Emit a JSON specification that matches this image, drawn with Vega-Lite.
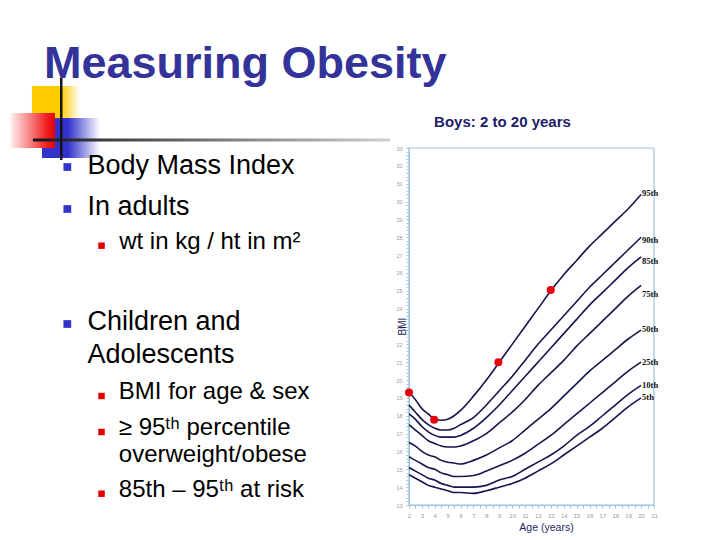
{
  "$schema": "https://vega.github.io/schema/vega-lite/v6.json",
  "width": 720,
  "height": 540,
  "padding": 0,
  "autosize": {"type": "none"},
  "background": "white",
  "config": {"view": {"stroke": null}},
  "datasets": {
    "slide": [
      {"role": "title", "t": "Measuring Obesity", "h": 6.1, "v": 14.5},
      {"role": "l1", "t": "Body Mass Index", "h": 12.15, "v": 32.22},
      {"role": "l1", "t": "In adults", "h": 12.15, "v": 39.81},
      {"role": "l2", "t": "wt in kg / ht in m²", "h": 16.55, "v": 46.06},
      {"role": "l1", "t": "Children and", "h": 12.15, "v": 61.11},
      {"role": "l1", "t": "Adolescents", "h": 12.15, "v": 67.28},
      {"role": "l2", "t": "BMI for age & sex", "h": 16.5, "v": 73.89},
      {"role": "l2", "t": "≥ 95ᵗʰ percentile", "h": 16.5, "v": 80.56},
      {"role": "l2", "t": "overweight/obese", "h": 16.5, "v": 85.5},
      {"role": "l2", "t": "85th – 95ᵗʰ at risk", "h": 16.5, "v": 91.98}
    ],
    "bullets": [
      {"lvl": 1, "h": 9.35, "v": 30.93},
      {"lvl": 1, "h": 9.35, "v": 38.7},
      {"lvl": 2, "h": 14.1, "v": 45.5},
      {"lvl": 1, "h": 9.35, "v": 60.0},
      {"lvl": 2, "h": 14.1, "v": 73.33},
      {"lvl": 2, "h": 14.1, "v": 80.0},
      {"lvl": 2, "h": 14.1, "v": 91.43}
    ],
    "decor": [
      {"part": "yellow", "h": 4.44, "h2": 11.11, "v": 15.93, "v2": 21.85},
      {"part": "blue", "h": 5.83, "h2": 13.89, "v": 21.85, "v2": 29.26},
      {"part": "red", "h": 1.39, "h2": 7.64, "v": 20.93, "v2": 27.41},
      {"part": "hline", "h": 4.58, "h2": 54.17, "v": 25.65, "v2": 26.2},
      {"part": "vline", "h": 8.33, "h2": 8.68, "v": 14.44, "v2": 29.63}
    ],
    "curves": [
      {"p":"5th","age":2,"bmi":14.7},{"p":"5th","age":2.5,"bmi":14.5},{"p":"5th","age":3,"bmi":14.3},{"p":"5th","age":3.5,"bmi":14.1},{"p":"5th","age":4,"bmi":14.0},{"p":"5th","age":4.5,"bmi":13.9},{"p":"5th","age":5,"bmi":13.8},{"p":"5th","age":5.5,"bmi":13.7},{"p":"5th","age":6,"bmi":13.7},{"p":"5th","age":7,"bmi":13.65},{"p":"5th","age":8,"bmi":13.8},{"p":"5th","age":9,"bmi":14.0},{"p":"5th","age":10,"bmi":14.2},{"p":"5th","age":11,"bmi":14.5},{"p":"5th","age":12,"bmi":14.9},{"p":"5th","age":13,"bmi":15.3},{"p":"5th","age":14,"bmi":15.8},{"p":"5th","age":15,"bmi":16.3},{"p":"5th","age":16,"bmi":16.8},{"p":"5th","age":17,"bmi":17.3},{"p":"5th","age":18,"bmi":17.9},{"p":"5th","age":19,"bmi":18.5},{"p":"5th","age":20,"bmi":19.0},
      {"p":"10th","age":2,"bmi":15.1},{"p":"10th","age":2.5,"bmi":14.9},{"p":"10th","age":3,"bmi":14.7},{"p":"10th","age":3.5,"bmi":14.5},{"p":"10th","age":4,"bmi":14.4},{"p":"10th","age":4.5,"bmi":14.2},{"p":"10th","age":5,"bmi":14.1},{"p":"10th","age":5.5,"bmi":14.0},{"p":"10th","age":6,"bmi":14.0},{"p":"10th","age":7,"bmi":14.0},{"p":"10th","age":8,"bmi":14.1},{"p":"10th","age":9,"bmi":14.4},{"p":"10th","age":10,"bmi":14.6},{"p":"10th","age":11,"bmi":15.0},{"p":"10th","age":12,"bmi":15.4},{"p":"10th","age":13,"bmi":15.8},{"p":"10th","age":14,"bmi":16.3},{"p":"10th","age":15,"bmi":16.9},{"p":"10th","age":16,"bmi":17.4},{"p":"10th","age":17,"bmi":18.0},{"p":"10th","age":18,"bmi":18.6},{"p":"10th","age":19,"bmi":19.2},{"p":"10th","age":20,"bmi":19.7},
      {"p":"25th","age":2,"bmi":15.7},{"p":"25th","age":2.5,"bmi":15.5},{"p":"25th","age":3,"bmi":15.3},{"p":"25th","age":3.5,"bmi":15.1},{"p":"25th","age":4,"bmi":15.0},{"p":"25th","age":4.5,"bmi":14.8},{"p":"25th","age":5,"bmi":14.7},{"p":"25th","age":5.5,"bmi":14.6},{"p":"25th","age":6,"bmi":14.6},{"p":"25th","age":7,"bmi":14.65},{"p":"25th","age":8,"bmi":14.9},{"p":"25th","age":9,"bmi":15.2},{"p":"25th","age":10,"bmi":15.5},{"p":"25th","age":11,"bmi":15.9},{"p":"25th","age":12,"bmi":16.4},{"p":"25th","age":13,"bmi":16.9},{"p":"25th","age":14,"bmi":17.5},{"p":"25th","age":15,"bmi":18.1},{"p":"25th","age":16,"bmi":18.7},{"p":"25th","age":17,"bmi":19.3},{"p":"25th","age":18,"bmi":19.9},{"p":"25th","age":19,"bmi":20.5},{"p":"25th","age":20,"bmi":21.0},
      {"p":"50th","age":2,"bmi":16.5},{"p":"50th","age":2.5,"bmi":16.3},{"p":"50th","age":3,"bmi":16.0},{"p":"50th","age":3.5,"bmi":15.8},{"p":"50th","age":4,"bmi":15.7},{"p":"50th","age":4.5,"bmi":15.5},{"p":"50th","age":5,"bmi":15.4},{"p":"50th","age":5.5,"bmi":15.35},{"p":"50th","age":6,"bmi":15.3},{"p":"50th","age":7,"bmi":15.5},{"p":"50th","age":8,"bmi":15.8},{"p":"50th","age":9,"bmi":16.2},{"p":"50th","age":10,"bmi":16.6},{"p":"50th","age":11,"bmi":17.2},{"p":"50th","age":12,"bmi":17.8},{"p":"50th","age":13,"bmi":18.4},{"p":"50th","age":14,"bmi":19.1},{"p":"50th","age":15,"bmi":19.8},{"p":"50th","age":16,"bmi":20.5},{"p":"50th","age":17,"bmi":21.1},{"p":"50th","age":18,"bmi":21.7},{"p":"50th","age":19,"bmi":22.3},{"p":"50th","age":20,"bmi":22.8},
      {"p":"75th","age":2,"bmi":17.5},{"p":"75th","age":2.5,"bmi":17.2},{"p":"75th","age":3,"bmi":16.9},{"p":"75th","age":3.5,"bmi":16.6},{"p":"75th","age":4,"bmi":16.45},{"p":"75th","age":4.5,"bmi":16.3},{"p":"75th","age":5,"bmi":16.25},{"p":"75th","age":5.5,"bmi":16.25},{"p":"75th","age":6,"bmi":16.3},{"p":"75th","age":7,"bmi":16.6},{"p":"75th","age":8,"bmi":17.0},{"p":"75th","age":9,"bmi":17.6},{"p":"75th","age":10,"bmi":18.2},{"p":"75th","age":11,"bmi":18.9},{"p":"75th","age":12,"bmi":19.7},{"p":"75th","age":13,"bmi":20.4},{"p":"75th","age":14,"bmi":21.1},{"p":"75th","age":15,"bmi":21.9},{"p":"75th","age":16,"bmi":22.6},{"p":"75th","age":17,"bmi":23.3},{"p":"75th","age":18,"bmi":24.0},{"p":"75th","age":19,"bmi":24.7},{"p":"75th","age":20,"bmi":25.3},
      {"p":"85th","age":2,"bmi":18.1},{"p":"85th","age":2.5,"bmi":17.8},{"p":"85th","age":3,"bmi":17.4},{"p":"85th","age":3.5,"bmi":17.1},{"p":"85th","age":4,"bmi":16.9},{"p":"85th","age":4.5,"bmi":16.8},{"p":"85th","age":5,"bmi":16.8},{"p":"85th","age":5.5,"bmi":16.8},{"p":"85th","age":6,"bmi":16.9},{"p":"85th","age":7,"bmi":17.3},{"p":"85th","age":8,"bmi":17.9},{"p":"85th","age":9,"bmi":18.6},{"p":"85th","age":10,"bmi":19.4},{"p":"85th","age":11,"bmi":20.2},{"p":"85th","age":12,"bmi":21.0},{"p":"85th","age":13,"bmi":21.8},{"p":"85th","age":14,"bmi":22.6},{"p":"85th","age":15,"bmi":23.4},{"p":"85th","age":16,"bmi":24.2},{"p":"85th","age":17,"bmi":24.9},{"p":"85th","age":18,"bmi":25.6},{"p":"85th","age":19,"bmi":26.3},{"p":"85th","age":20,"bmi":26.9},
      {"p":"90th","age":2,"bmi":18.6},{"p":"90th","age":2.5,"bmi":18.2},{"p":"90th","age":3,"bmi":17.8},{"p":"90th","age":3.5,"bmi":17.5},{"p":"90th","age":4,"bmi":17.3},{"p":"90th","age":4.5,"bmi":17.2},{"p":"90th","age":5,"bmi":17.2},{"p":"90th","age":5.5,"bmi":17.3},{"p":"90th","age":6,"bmi":17.5},{"p":"90th","age":7,"bmi":17.9},{"p":"90th","age":8,"bmi":18.6},{"p":"90th","age":9,"bmi":19.4},{"p":"90th","age":10,"bmi":20.2},{"p":"90th","age":11,"bmi":21.1},{"p":"90th","age":12,"bmi":22.0},{"p":"90th","age":13,"bmi":22.8},{"p":"90th","age":14,"bmi":23.6},{"p":"90th","age":15,"bmi":24.4},{"p":"90th","age":16,"bmi":25.2},{"p":"90th","age":17,"bmi":25.9},{"p":"90th","age":18,"bmi":26.6},{"p":"90th","age":19,"bmi":27.3},{"p":"90th","age":20,"bmi":28.0},
      {"p":"95th","age":2,"bmi":19.3},{"p":"95th","age":2.5,"bmi":18.9},{"p":"95th","age":3,"bmi":18.4},{"p":"95th","age":3.5,"bmi":18.1},{"p":"95th","age":4,"bmi":17.8},{"p":"95th","age":4.5,"bmi":17.75},{"p":"95th","age":5,"bmi":17.8},{"p":"95th","age":5.5,"bmi":18.0},{"p":"95th","age":6,"bmi":18.3},{"p":"95th","age":7,"bmi":19.1},{"p":"95th","age":8,"bmi":20.0},{"p":"95th","age":9,"bmi":21.0},{"p":"95th","age":10,"bmi":22.0},{"p":"95th","age":11,"bmi":23.0},{"p":"95th","age":12,"bmi":24.0},{"p":"95th","age":13,"bmi":25.0},{"p":"95th","age":14,"bmi":25.9},{"p":"95th","age":15,"bmi":26.7},{"p":"95th","age":16,"bmi":27.5},{"p":"95th","age":17,"bmi":28.2},{"p":"95th","age":18,"bmi":28.9},{"p":"95th","age":19,"bmi":29.6},{"p":"95th","age":20,"bmi":30.4}
    ],
    "labels": [
      {"p": "95th", "age": 20, "bmi": 30.47},
      {"p": "90th", "age": 20, "bmi": 27.85},
      {"p": "85th", "age": 20, "bmi": 26.67},
      {"p": "75th", "age": 20, "bmi": 24.82},
      {"p": "50th", "age": 20, "bmi": 22.84},
      {"p": "25th", "age": 20, "bmi": 21.03},
      {"p": "10th", "age": 20, "bmi": 19.72},
      {"p": "5th", "age": 20, "bmi": 19.03}
    ],
    "points": [
      {"age": 2, "bmi": 19.3},
      {"age": 3.95, "bmi": 17.78},
      {"age": 8.93, "bmi": 21.0},
      {"age": 12.99, "bmi": 25.05}
    ],
    "frame": [
      {"age": 2, "age2": 21, "bmi": 13, "bmi2": 33}
    ],
    "heading": [
      {"t": "Boys: 2 to 20 years", "age": 9.25, "bmi": 34.18}
    ]
  },
  "resolve": {"scale": {"x": "independent", "y": "independent"}},
  "layer": [
    {
      "encoding": {
        "x": {"field": "h", "type": "quantitative", "scale": {"domain": [0, 100], "nice": false, "zero": false}, "axis": null},
        "y": {"field": "v", "type": "quantitative", "scale": {"domain": [0, 100], "nice": false, "zero": false, "reverse": true}, "axis": null}
      },
      "layer": [
        {
          "data": {"name": "decor"},
          "transform": [{"filter": "datum.part === 'yellow'"}],
          "mark": {"type": "rect", "fill": {"gradient": "linear", "x1": 0, "x2": 1, "y1": 0, "y2": 0, "stops": [{"offset": 0, "color": "#ffcc00"}, {"offset": 0.6, "color": "#ffcc00"}, {"offset": 1, "color": "#ffffff"}]}},
          "encoding": {"x2": {"field": "h2"}, "y2": {"field": "v2"}}
        },
        {
          "data": {"name": "decor"},
          "transform": [{"filter": "datum.part === 'blue'"}],
          "mark": {"type": "rect", "fill": {"gradient": "linear", "x1": 0, "x2": 1, "y1": 0, "y2": 0, "stops": [{"offset": 0, "color": "#3333cc"}, {"offset": 0.45, "color": "#3333cc"}, {"offset": 1, "color": "#ffffff"}]}},
          "encoding": {"x2": {"field": "h2"}, "y2": {"field": "v2"}}
        },
        {
          "data": {"name": "decor"},
          "transform": [{"filter": "datum.part === 'red'"}],
          "mark": {"type": "rect", "fill": {"gradient": "linear", "x1": 0, "x2": 1, "y1": 0, "y2": 0, "stops": [{"offset": 0, "color": "#fff4f4"}, {"offset": 0.8, "color": "#f02424"}, {"offset": 1, "color": "#e80000"}]}},
          "encoding": {"x2": {"field": "h2"}, "y2": {"field": "v2"}}
        },
        {
          "data": {"name": "decor"},
          "transform": [{"filter": "datum.part === 'hline'"}],
          "mark": {"type": "rect", "fill": {"gradient": "linear", "x1": 0, "x2": 1, "y1": 0, "y2": 0, "stops": [{"offset": 0, "color": "#151515"}, {"offset": 0.3, "color": "#505050"}, {"offset": 1, "color": "#d0d0d0"}]}},
          "encoding": {"x2": {"field": "h2"}, "y2": {"field": "v2"}}
        },
        {
          "data": {"name": "decor"},
          "transform": [{"filter": "datum.part === 'vline'"}],
          "mark": {"type": "rect", "fill": "#151515"},
          "encoding": {"x2": {"field": "h2"}, "y2": {"field": "v2"}}
        },
        {
          "data": {"name": "slide"},
          "transform": [{"filter": "datum.role === 'title'"}],
          "mark": {"type": "text", "font": "Liberation Sans", "fontWeight": "bold", "fontSize": 45, "color": "#333399", "align": "left", "baseline": "alphabetic"},
          "encoding": {"text": {"field": "t"}}
        },
        {
          "data": {"name": "slide"},
          "transform": [{"filter": "datum.role === 'l1'"}],
          "mark": {"type": "text", "font": "Liberation Sans", "fontSize": 27, "color": "#000000", "align": "left", "baseline": "alphabetic"},
          "encoding": {"text": {"field": "t"}}
        },
        {
          "data": {"name": "slide"},
          "transform": [{"filter": "datum.role === 'l2'"}],
          "mark": {"type": "text", "font": "Liberation Sans", "fontSize": 24, "color": "#000000", "align": "left", "baseline": "alphabetic"},
          "encoding": {"text": {"field": "t"}}
        },
        {
          "data": {"name": "bullets"},
          "transform": [{"filter": "datum.lvl === 1"}],
          "mark": {"type": "point", "shape": "square", "filled": true, "size": 60, "color": "#3333cc", "opacity": 1}
        },
        {
          "data": {"name": "bullets"},
          "transform": [{"filter": "datum.lvl === 2"}],
          "mark": {"type": "point", "shape": "square", "filled": true, "size": 42, "color": "#e00000", "opacity": 1}
        }
      ]
    },
    {
      "encoding": {
        "x": {
          "field": "age", "type": "quantitative",
          "scale": {"domain": [2, 21], "range": [409, 654], "nice": false, "zero": false},
          "axis": {
            "orient": "bottom", "offset": -35, "title": "Age (years)", "tickCount": 38,
            "labelExpr": "abs(datum.value - round(datum.value)) < 0.01 ? '' + round(datum.value) : ''",
            "labelFont": "Liberation Sans", "labelFontSize": 6, "labelColor": "#9a9a9a", "labelPadding": 4,
            "labelOverlap": false, "labelFlush": false, "labelBound": false,
            "tickSize": 3, "tickColor": "#9ec4de", "domainColor": "#9ec4de", "grid": false,
            "titleFont": "Liberation Sans", "titleFontSize": 10.5, "titleFontWeight": "normal", "titleColor": "#1f1f5e",
            "titleX": 546, "titleY": 22, "titleBaseline": "middle",
            "encode": {"ticks": {"update": {"y": {"value": -3}}}}
          }
        },
        "y": {
          "field": "bmi", "type": "quantitative",
          "scale": {"domain": [13, 33], "range": [505, 148], "nice": false, "zero": false},
          "axis": {
            "orient": "left", "offset": -409, "title": "BMI", "tickCount": 100,
            "labelExpr": "abs(datum.value - round(datum.value)) < 0.01 ? '' + round(datum.value) : ''",
            "labelFont": "Liberation Sans", "labelFontSize": 5.5, "labelColor": "#9a9a9a", "labelPadding": 4,
            "labelOverlap": false, "labelFlush": false, "labelBound": false,
            "tickSize": 3, "tickColor": "#9ec4de", "domainColor": "#9ec4de", "grid": false,
            "titleFont": "Liberation Sans", "titleFontSize": 10, "titleFontWeight": "normal", "titleColor": "#1f1f5e",
            "titleX": -2, "titleY": 326, "titleBaseline": "bottom", "titleAngle": -90,
            "encode": {"ticks": {"update": {"x": {"value": 3}}}}
          }
        }
      },
      "layer": [
        {
          "data": {"name": "frame"},
          "mark": {"type": "rect", "fill": null, "stroke": "#9ec4de", "strokeWidth": 1.2},
          "encoding": {"x2": {"field": "age2"}, "y2": {"field": "bmi2"}}
        },
        {
          "data": {"name": "curves"},
          "mark": {"type": "line", "color": "#15154f", "strokeWidth": 1.6, "interpolate": "monotone"},
          "encoding": {"detail": {"field": "p"}}
        },
        {
          "data": {"name": "points"},
          "mark": {"type": "point", "filled": true, "size": 65, "color": "#e8000d", "opacity": 1}
        },
        {
          "data": {"name": "labels"},
          "mark": {"type": "text", "font": "Liberation Serif", "fontWeight": "bold", "fontSize": 8.5, "color": "#111111", "align": "left", "baseline": "middle", "dx": 1},
          "encoding": {"text": {"field": "p"}}
        },
        {
          "data": {"name": "heading"},
          "mark": {"type": "text", "font": "Liberation Sans", "fontWeight": "bold", "fontSize": 15, "color": "#1c1c6b", "align": "center", "baseline": "alphabetic"},
          "encoding": {"text": {"field": "t"}}
        }
      ]
    }
  ]
}
